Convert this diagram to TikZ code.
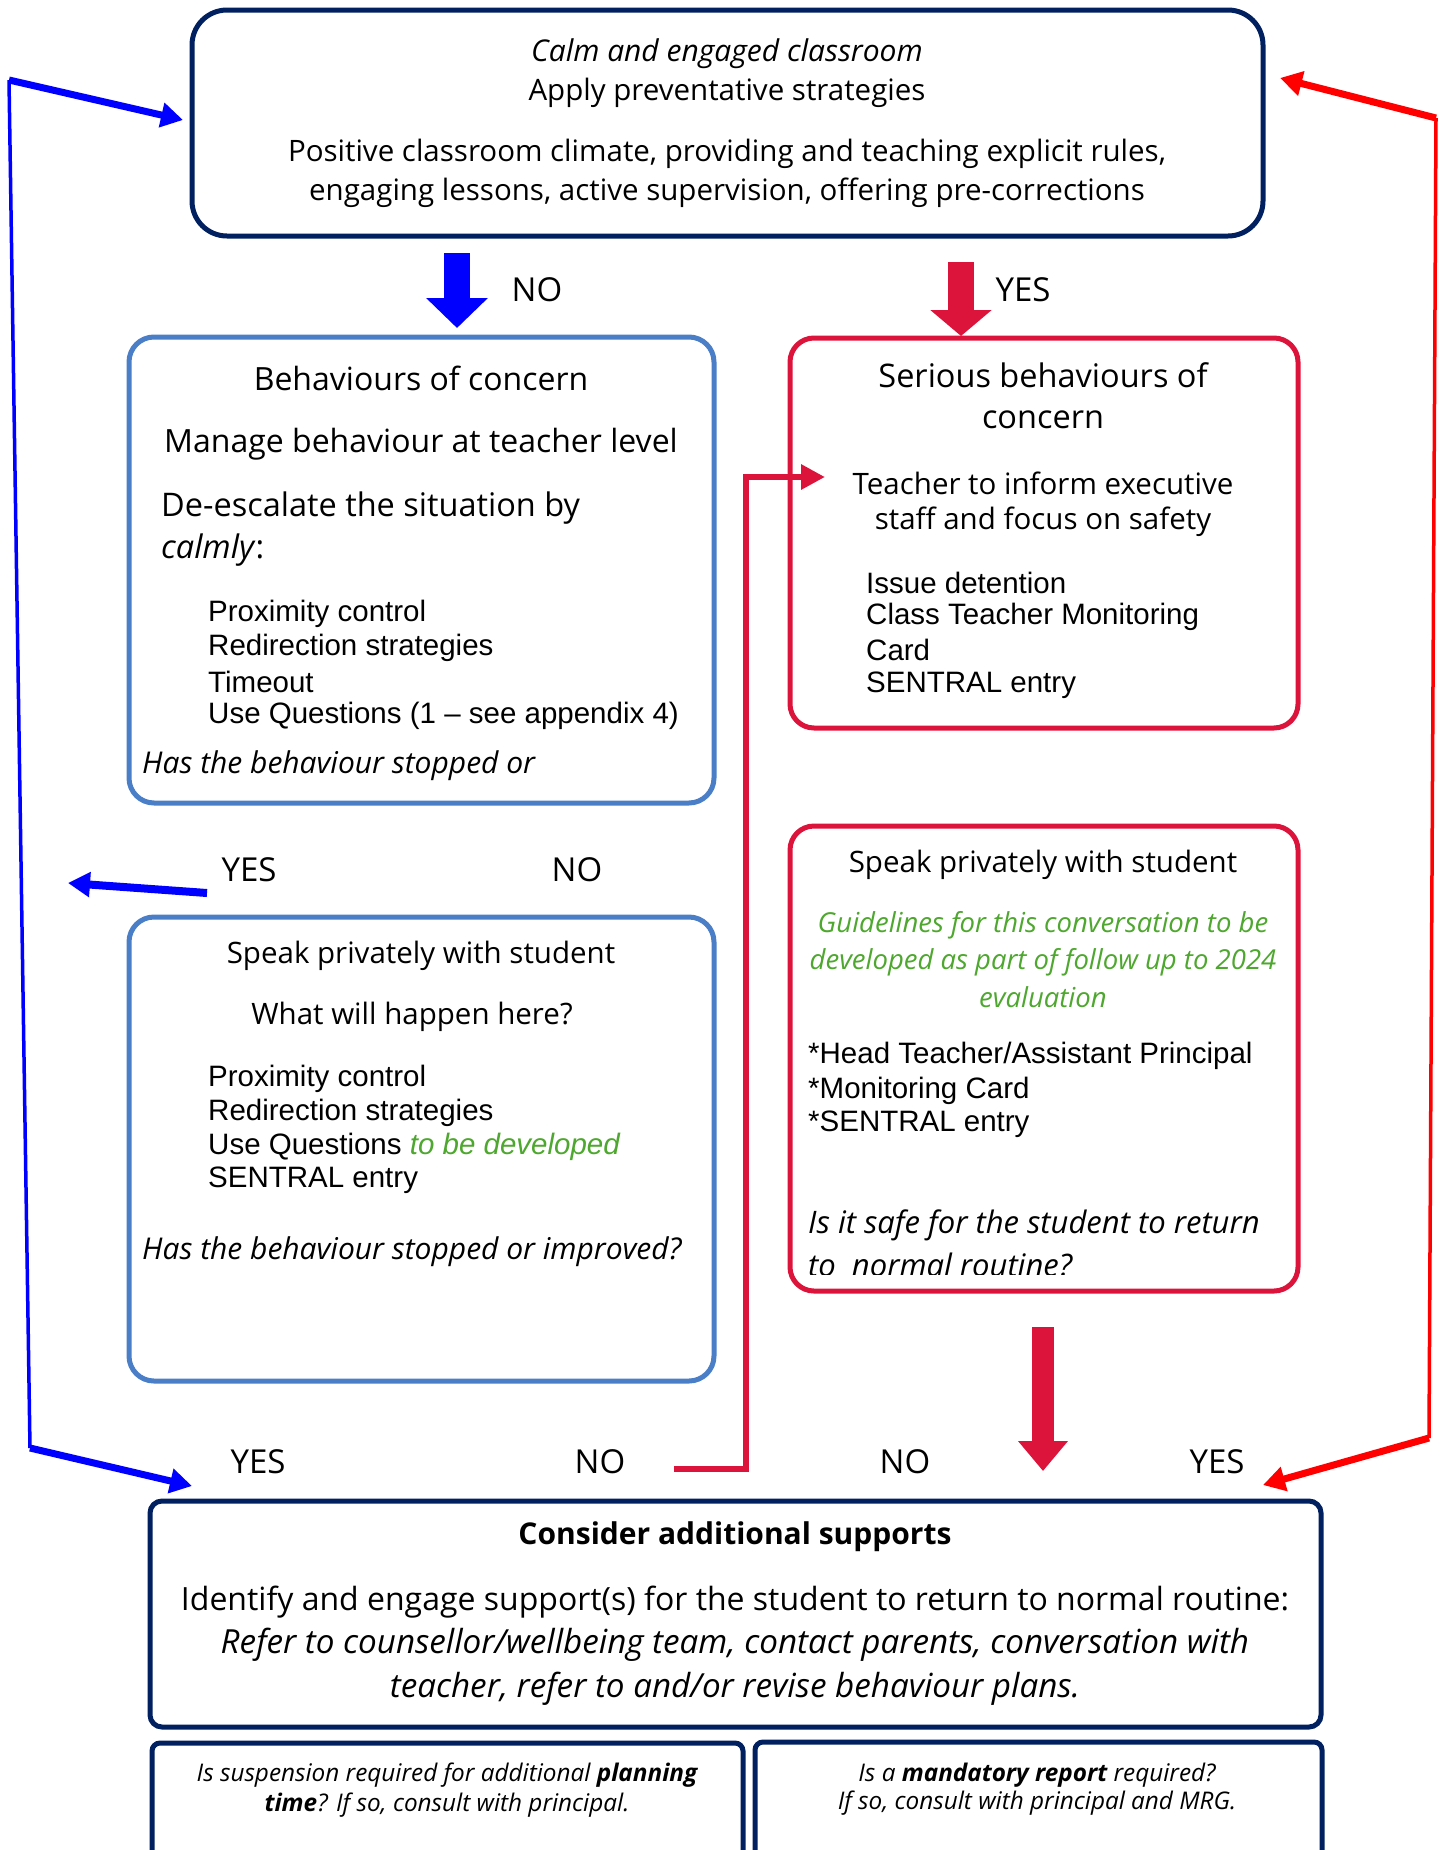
\documentclass[tikz,border=0pt]{standalone}
\usepackage{fontspec}
\setmainfont{Open Sans}
\newfontfamily\ar{Liberation Sans}
\usetikzlibrary{arrows.meta}
\definecolor{navy}{HTML}{002060}
\definecolor{boxblue}{HTML}{4A7EC7}
\definecolor{crim}{HTML}{DC143C}
\definecolor{grn}{HTML}{4EA72E}
\begin{document}
\begin{tikzpicture}[x=1pt,y=-1pt,
  box/.style={draw, line width=5pt, inner sep=0pt, fill=white},
  hd/.style={inner sep=0pt, font=\fontsize{29.5}{34}\selectfont},
  hdb/.style={hd, font=\fontsize{31.5}{36}\selectfont},
  hl/.style={hd, anchor=west, font=\fontsize{32.5}{36}\selectfont},
  hi/.style={inner sep=0pt, anchor=west, font=\fontsize{30}{34}\selectfont\itshape},
  li/.style={inner sep=0pt, anchor=west, font=\ar\fontsize{29.5}{34}\selectfont},
  gr/.style={inner sep=0pt, text=grn, font=\fontsize{27.5}{32}\selectfont\itshape},
  lab/.style={inner sep=0pt, font=\fontsize{33}{38}\selectfont},
  sm/.style={inner sep=0pt, font=\fontsize{24.3}{28}\selectfont\itshape},
  bigtip/.style={-{Triangle[width=60pt,length=30pt]}},
]
\useasboundingbox (0,0) rectangle (1447,1850);

% boxes
\node[box, draw=navy, rounded corners=35pt, minimum width=1071pt, minimum height=226pt] (top) at (727.5,123) {};
\node[box, draw=boxblue, rounded corners=25pt, minimum width=585pt, minimum height=466pt] (b1) at (421.5,570) {};
\node[box, draw=boxblue, rounded corners=25pt, minimum width=585pt, minimum height=464pt] (b2) at (421.5,1149) {};
\node[box, draw=crim, rounded corners=24pt, minimum width=508pt, minimum height=390pt] (r1) at (1044,533) {};
\node[box, draw=crim, rounded corners=24pt, minimum width=508pt, minimum height=465pt] (r2) at (1044,1058.5) {};
\node[box, draw=navy, rounded corners=12pt, minimum width=1171pt, minimum height=226pt] (bot) at (735.5,1614) {};
\node[box, draw=navy, rounded corners=8pt, minimum width=591pt, minimum height=160pt] (sl) at (447.5,1823) {};
\node[box, draw=navy, rounded corners=8pt, minimum width=567pt, minimum height=160pt] (sr) at (1038.5,1822) {};

% top box text
\node[hd, font=\fontsize{30}{34}\selectfont\itshape] (t1) at (727,54) {Calm and engaged classroom};
\node[hd] (t2) at (727,93) {Apply preventative strategies};
\node[hd] (t3) at (727,154) {Positive classroom climate, providing and teaching explicit rules,};
\node[hd] (t4) at (727,193) {engaging lessons, active supervision, offering pre-corrections};

% blue box 1
\node[hdb, font=\fontsize{32}{36}\selectfont] (b1a) at (421,378) {Behaviours of concern};
\node[hdb, font=\fontsize{32}{36}\selectfont] (b1b) at (421,444) {Manage behaviour at teacher level};
\node[hl] (b1c) at (161,508) {De-escalate the situation by};
\node[hl] (b1d) at (161,550) {\textit{calmly}:};
\node[li] (b1e) at (208,614) {Proximity control};
\node[li] (b1f) at (208,648) {Redirection strategies};
\node[li] (b1g) at (208,682) {Timeout};
\node[li] (b1h) at (208,716) {Use Questions (1 – see appendix 4)};
\node[hi] (b1i) at (142,766) {Has the behaviour stopped or};

% blue box 2
\node[hd] (b2a) at (421,956) {Speak privately with student};
\node[hd] (b2b) at (412,1017) {What will happen here?};
\node[li] (b2c) at (208,1079) {Proximity control};
\node[li] (b2d) at (208,1113) {Redirection strategies};
\node[li] (b2e) at (208,1147) {Use Questions \textcolor{grn}{\itshape to be developed}};
\node[li] (b2f) at (208,1180) {SENTRAL entry};
\node[hi] (b2g) at (142,1252) {Has the behaviour stopped or improved?};

% red box 1
\node[hdb, font=\fontsize{32.5}{36}\selectfont] (r1a) at (1043,375) {Serious behaviours of};
\node[hdb, font=\fontsize{32.5}{36}\selectfont] (r1b) at (1043,420) {concern};
\node[hd] (r1c) at (1043,483) {Teacher to inform executive};
\node[hd] (r1d) at (1043,522) {staff and focus on safety};
\node[li] (r1e) at (866,583) {Issue detention};
\node[li] (r1f) at (866,617) {Class Teacher Monitoring};
\node[li] (r1g) at (866,650) {Card};
\node[li] (r1h) at (866,685) {SENTRAL entry};

% red box 2
\node[hd] (r2a) at (1043,865) {Speak privately with student};
\node[gr] (r2b) at (1043,925) {Guidelines for this conversation to be};
\node[gr] (r2c) at (1043,962) {developed as part of follow up to 2024};
\node[gr] (r2d) at (1043,997) {evaluation};
\node[li] (r2e) at (808,1056) {*Head Teacher/Assistant Principal};
\node[li] (r2f) at (808,1091) {*Monitoring Card};
\node[li] (r2g) at (808,1124) {*SENTRAL entry};
\node[hi, font=\fontsize{31}{34}\selectfont\itshape] (r2h) at (808,1225) {Is it safe for the student to return};
\begin{scope}
\clip (795,1240) rectangle (1290,1274);
\node[hi, font=\fontsize{31}{34}\selectfont\itshape] (r2i) at (808,1265) {to\ \ normal routine?};
\end{scope}

% bottom box
\node[hd, font=\fontsize{30}{36}\selectfont\bfseries] (c1) at (735,1537) {Consider additional supports};
\node[hd, font=\fontsize{32}{36}\selectfont] (c2) at (735,1602) {Identify and engage support(s) for the student to return to normal routine:};
\node[hd, font=\fontsize{33.2}{36}\selectfont\itshape] (c3) at (735,1645) {Refer to counsellor/wellbeing team, contact parents, conversation with};
\node[hd, font=\fontsize{33.2}{36}\selectfont\itshape] (c4) at (735,1689) {teacher, refer to and/or revise behaviour plans.};

% small boxes
\node[sm] (s1) at (447,1775) {Is suspension required for additional \textbf{planning}};
\node[sm] (s2) at (447,1805) {\textbf{time}? If so, consult with principal.};
\node[sm] (s3) at (1037,1775) {Is a \textbf{mandatory report} required?};
\node[sm] (s4) at (1037,1803) {If so, consult with principal and MRG.};

% labels
\node[lab] (lno1) at (537,290) {NO};
\node[lab] (lyes1) at (1023,290) {YES};
\node[lab] (lyes2) at (249,870) {YES};
\node[lab] (lno2) at (577,870) {NO};
\node[lab] (lyes3) at (258,1462) {YES};
\node[lab] (lno3) at (600,1462) {NO};
\node[lab] (lno4) at (905,1462) {NO};
\node[lab] (lyes4) at (1217,1462) {YES};

% coordinates
\coordinate (noA) at (457,253);
\coordinate (noB) at (457,328);
\coordinate (yesA) at (961,262);
\coordinate (yesB) at (961,336);
\coordinate (lyA) at (207,893);
\coordinate (lyB) at (68,883);
\coordinate (blc) at (30,1448);
\coordinate (btc) at (9,80);
\coordinate (btT) at (183,120);
\coordinate (bbT) at (192,1486);
\coordinate (rbc) at (1429,1438);
\coordinate (rtc) at (1436,118);
\coordinate (rtT) at (1280,78);
\coordinate (rbT) at (1263,1485);
\coordinate (nA) at (674,1469);
\coordinate (nC) at (746,1469);
\coordinate (nD) at (746,477);
\coordinate (nT) at (825,477);
\coordinate (dA) at (1043,1327);
\coordinate (dB) at (1043,1471);

% big arrows
\draw[blue, line width=26pt, bigtip] (noA) -- (noB);
\draw[crim, line width=26pt, -{Triangle[width=60pt,length=26pt]}] (yesA) -- (yesB);
\draw[crim, line width=22pt, -{Triangle[width=48pt,length=30pt]}] (dA) -- (dB);

% side arrows
\draw[blue, line width=8pt, -{Triangle[width=24pt,length=22pt]}] (lyA) -- (lyB);
\draw[blue, line width=3.5pt] (blc) -- (btc);
\draw[blue, line width=7pt, -{Triangle[width=24pt,length=22pt]}] (btc) -- (btT);
\draw[blue, line width=7pt, -{Triangle[width=24pt,length=22pt]}] (blc) -- (bbT);
\draw[red, line width=3.5pt] (rbc) -- (rtc);
\draw[red, line width=7pt, -{Triangle[width=24pt,length=22pt]}] (rtc) -- (rtT);
\draw[red, line width=7pt, -{Triangle[width=24pt,length=22pt]}] (rbc) -- (rbT);
\draw[crim, line width=6pt, -{Triangle[width=24pt,length=24pt]}] (nA) -- (nC) -- (nD) -- (nT);
\end{tikzpicture}
\end{document}
